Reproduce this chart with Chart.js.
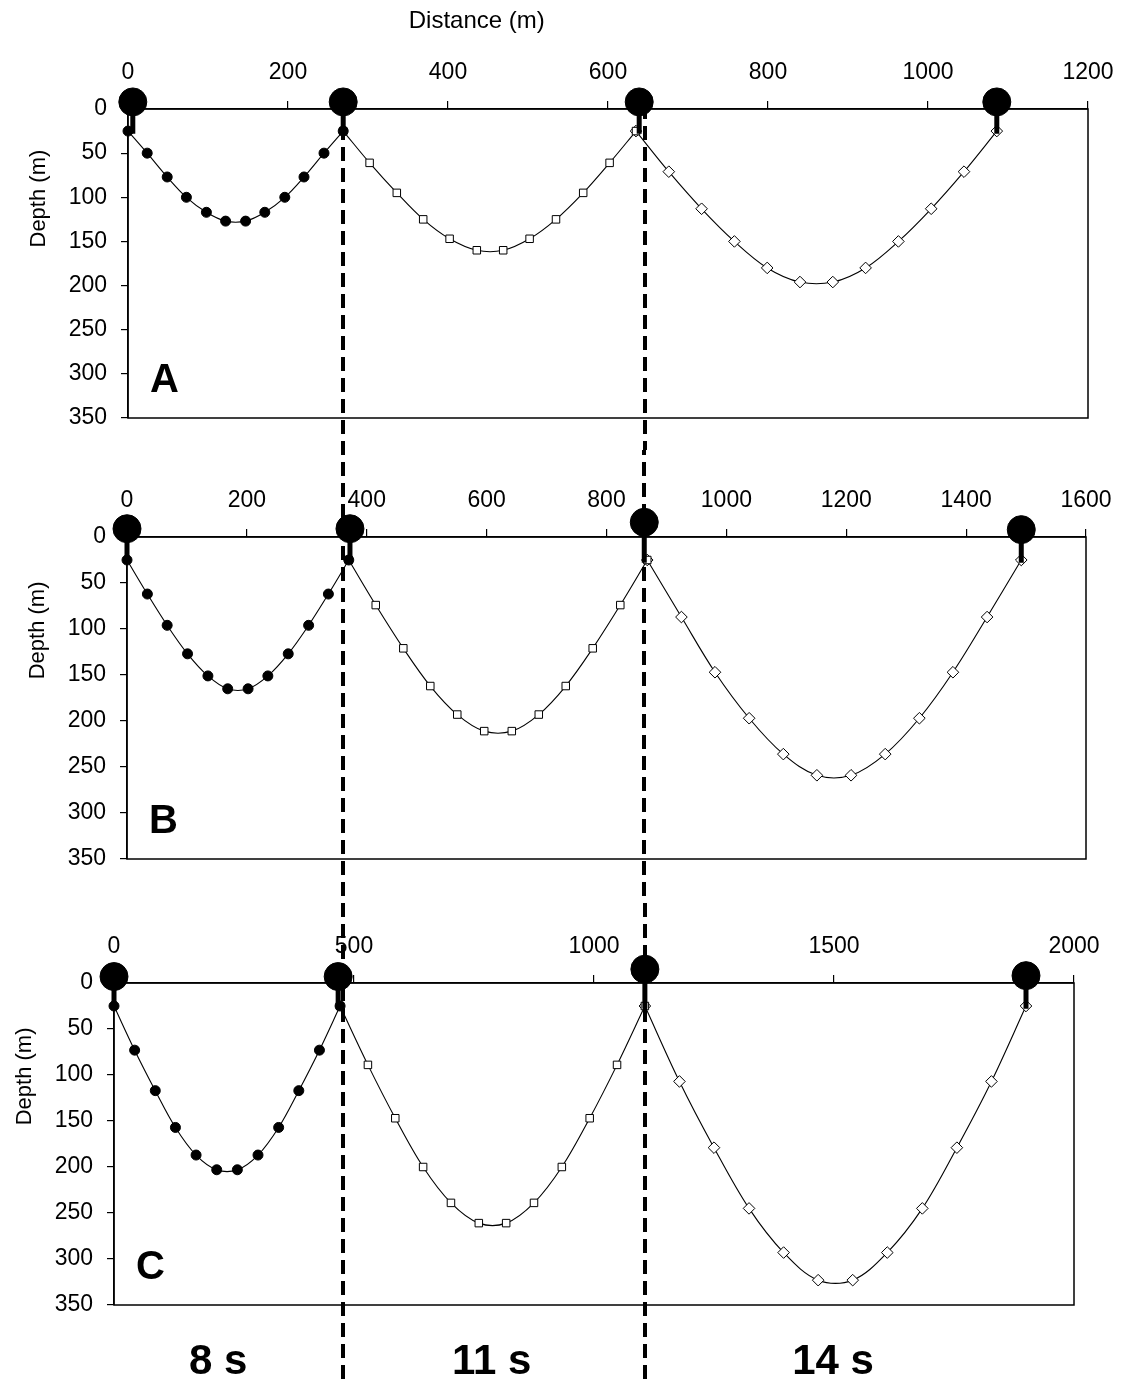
<!DOCTYPE html>
<html>
<head>
<meta charset="utf-8">
<script src="https://cdn.jsdelivr.net/npm/chart.js@4.4.1/dist/chart.umd.min.js"></script>
<style>
  html, body { margin: 0; padding: 0; background: #fff; }
  #wrap { position: relative; width: 1122px; height: 1379px; }
  .panel { position: absolute; left: 0; width: 1122px; }
</style>
</head>
<body>
<div id="wrap">
  <div class="panel" style="top:0;height:450px"><canvas id="chartA"></canvas></div>
  <div class="panel" style="top:450px;height:450px"><canvas id="chartB"></canvas></div>
  <div class="panel" style="top:900px;height:479px"><canvas id="chartC"></canvas></div>
</div>
<script>
// Panel A (distance m, depth m)
const aX1 = [0, 24, 49, 73, 98, 122, 147, 171, 196, 220, 245, 269];
const aY1 = [25, 50, 77, 100, 117, 127, 127, 117, 100, 77, 50, 25];
const aX2 = [269, 302, 336, 369, 402, 436, 469, 502, 535, 569, 602, 635];
const aY2 = [25, 61, 95, 125, 147, 160, 160, 147, 125, 95, 61, 25];
const aX3 = [635, 676, 717, 758, 799, 840, 881, 922, 963, 1004, 1045, 1086];
const aY3 = [25, 71, 113, 150, 180, 196, 196, 180, 150, 113, 71, 25];
const aBuoyX = [6, 269, 639, 1086];
const aBuoyY = [-8, -8, -8, -8];
const aDividers = [269, 646];

// Panel B
const bX1 = [0, 34, 67, 101, 135, 168, 202, 235, 269, 303, 336, 370];
const bY1 = [25, 62, 96, 127, 151, 165, 165, 151, 127, 96, 62, 25];
const bX2 = [370, 415, 461, 506, 551, 596, 642, 687, 732, 777, 823, 868];
const bY2 = [25, 74, 121, 162, 193, 211, 211, 193, 162, 121, 74, 25];
const bX3 = [868, 925, 981, 1038, 1095, 1151, 1208, 1265, 1322, 1378, 1435, 1492];
const bY3 = [25, 87, 147, 197, 236, 259, 259, 236, 197, 147, 87, 25];
const bBuoyX = [0, 372, 863, 1492];
const bBuoyY = [-9, -9, -16, -8];
const bDividers = [360, 863];

// Panel C
const cX1 = [0, 43, 86, 128, 171, 214, 257, 300, 343, 385, 428, 471];
const cY1 = [25, 73, 117, 157, 187, 203, 203, 187, 157, 117, 73, 25];
const cX2 = [471, 529, 586, 644, 702, 760, 817, 875, 933, 991, 1048, 1106];
const cY2 = [25, 89, 147, 200, 239, 261, 261, 239, 200, 147, 89, 25];
const cX3 = [1106, 1178, 1250, 1323, 1395, 1467, 1539, 1611, 1684, 1756, 1828, 1900];
const cY3 = [25, 107, 179, 245, 293, 323, 323, 293, 245, 179, 107, 25];
const cBuoyX = [0, 467, 1106, 1900];
const cBuoyY = [-7, -7, -15, -8];
const cDividers = [477, 1106];

const depthTicks = [0, 350, 50];          // min, max, step
const periodLabels = ['8 s', '11 s', '14 s'];
const periodAtC = [217, 787, 1498];       // in panel C distance units
const stemBottom = 28;

Chart.defaults.font.family = '"Liberation Sans", Arial, sans-serif';
Chart.defaults.color = '#000';

function pts(xs, ys) {
    return xs.map((x, i) => ({ x: x, y: ys[i] }));
}

// courbe lissée avec marqueurs
function curve(xs, ys, style, fill, r) {
    return {
        data: pts(xs, ys),
        showLine: true,
        borderColor: '#000',
        borderWidth: 1.1,
        tension: 0.35,
        pointStyle: style,
        pointRadius: r,
        pointBackgroundColor: fill,
        pointBorderColor: '#000',
        pointBorderWidth: 1,
        clip: false
    };
}

const panelDecor = {
    id: 'panelDecor',
    afterDatasetsDraw(chart, args, o) {
        const ctx = chart.ctx;
        const a = chart.chartArea;
        const x = chart.scales.x;
        ctx.save();
        // cadre
        ctx.strokeStyle = '#000';
        ctx.lineWidth = 1.5;
        ctx.strokeRect(a.left, a.top, a.right - a.left, a.bottom - a.top);

        // lignes pointillées verticales
        const y0 = o.dashFromAxis ? a.top : 0;
        ctx.lineWidth = 4;
        ctx.setLineDash([14, 7]);
        ctx.lineDashOffset = o.pageTop + y0;
        o.dividers.forEach(d => {
            const px = Math.round(x.getPixelForValue(d));
            ctx.beginPath();
            ctx.moveTo(px, y0);
            ctx.lineTo(px, chart.height);
            ctx.stroke();
        });
        ctx.setLineDash([]);

        ctx.fillStyle = '#000';
        // lettre du panneau
        ctx.font = 'bold 40px "Liberation Sans", Arial, sans-serif';
        ctx.textAlign = 'left';
        ctx.textBaseline = 'alphabetic';
        ctx.fillText(o.letter, a.left + 22, a.bottom - 26);

        // titre axe y
        ctx.font = '22px "Liberation Sans", Arial, sans-serif';
        ctx.save();
        ctx.translate(a.left - 89, a.top + (a.bottom - a.top) * 0.29);
        ctx.rotate(-Math.PI / 2);
        ctx.textAlign = 'center';
        ctx.textBaseline = 'middle';
        ctx.fillText('Depth (m)', 0, 0);
        ctx.restore();

        // titre axe x (panneau A)
        if (o.xTitle) {
            ctx.font = '24px "Liberation Sans", Arial, sans-serif';
            ctx.textAlign = 'center';
            ctx.textBaseline = 'middle';
            ctx.fillText(o.xTitle, x.getPixelForValue(o.xTitleAt), 21);
        }

        // périodes (panneau C)
        if (o.periods) {
            ctx.font = 'bold 42px "Liberation Sans", Arial, sans-serif';
            ctx.textAlign = 'center';
            ctx.textBaseline = 'alphabetic';
            o.periods.forEach((t, i) => {
                ctx.fillText(t, x.getPixelForValue(o.periodAt[i]), chart.height - 5);
            });
        }
        ctx.restore();
    }
};

function makePanel(id, p) {
    const buoys = {
        data: pts(p.buoyX, p.buoyY),
        showLine: false,
        pointRadius: 14,
        pointBackgroundColor: '#000',
        pointBorderColor: '#000',
        pointBorderWidth: 1,
        clip: false
    };
    const stems = p.buoyX.map((bx, i) => ({
        data: [{ x: bx, y: p.buoyY[i] }, { x: bx, y: stemBottom }],
        showLine: true,
        borderColor: '#000',
        borderWidth: 5,
        pointRadius: 0,
        clip: false
    }));
    const tickFont = { size: 23 };
    return new Chart(document.getElementById(id), {
        type: 'scatter',
        data: {
            datasets: [buoys, ...stems,
                curve(p.x1, p.y1, 'circle', '#000', 5),
                curve(p.x2, p.y2, 'rect', '#fff', 5.3),
                curve(p.x3, p.y3, 'rectRot', '#fff', 5.8)]
        },
        options: {
            responsive: true,
            maintainAspectRatio: false,
            animation: false,
            layout: { padding: { left: 0, top: 0, right: p.padRight, bottom: p.padBottom } },
            plugins: {
                legend: { display: false },
                tooltip: { enabled: false },
                panelDecor: p.decor
            },
            scales: {
                x: {
                    type: 'linear',
                    position: 'top',
                    min: 0,
                    max: p.xMax,
                    ticks: {
                        stepSize: p.xStep, font: tickFont, color: '#000', padding: 15,
                        maxRotation: 0, autoSkip: false,
                        callback: v => String(v)
                    },
                    grid: { drawOnChartArea: false, tickLength: 8, color: '#000', lineWidth: 1.2 },
                    border: { color: '#000', width: 1.5 },
                    afterFit: s => {
                        s.height = p.topH;
                        s.paddingLeft = 0;
                        s.paddingRight = 0;
                    }
                },
                y: {
                    type: 'linear',
                    reverse: true,
                    min: depthTicks[0],
                    max: depthTicks[1],
                    ticks: { stepSize: depthTicks[2], font: tickFont, color: '#000', padding: 14 },
                    grid: { drawOnChartArea: false, tickLength: 7, color: '#000', lineWidth: 1.2 },
                    border: { color: '#000', width: 1.5 },
                    afterFit: s => {
                        s.width = p.leftW;
                        s.paddingTop = 0;
                        s.paddingBottom = 0;
                    }
                }
            }
        },
        plugins: [panelDecor]
    });
}

makePanel('chartA', {
    x1: aX1, y1: aY1, x2: aX2, y2: aY2, x3: aX3, y3: aY3,
    buoyX: aBuoyX, buoyY: aBuoyY,
    xMax: 1200, xStep: 200,
    leftW: 128, topH: 109, padRight: 34, padBottom: 32,
    decor: { letter: 'A', dividers: aDividers, pageTop: 0, dashFromAxis: true, xTitle: 'Distance (m)', xTitleAt: 436 }
});

makePanel('chartB', {
    x1: bX1, y1: bY1, x2: bX2, y2: bY2, x3: bX3, y3: bY3,
    buoyX: bBuoyX, buoyY: bBuoyY,
    xMax: 1600, xStep: 200,
    leftW: 127, topH: 87, padRight: 36, padBottom: 41,
    decor: { letter: 'B', dividers: bDividers, pageTop: 450, dashFromAxis: false }
});

makePanel('chartC', {
    x1: cX1, y1: cY1, x2: cX2, y2: cY2, x3: cX3, y3: cY3,
    buoyX: cBuoyX, buoyY: cBuoyY,
    xMax: 2000, xStep: 500,
    leftW: 114, topH: 83, padRight: 48, padBottom: 74,
    decor: { letter: 'C', dividers: cDividers, pageTop: 900, dashFromAxis: false, periods: periodLabels, periodAt: periodAtC }
});
</script>
</body>
</html>
